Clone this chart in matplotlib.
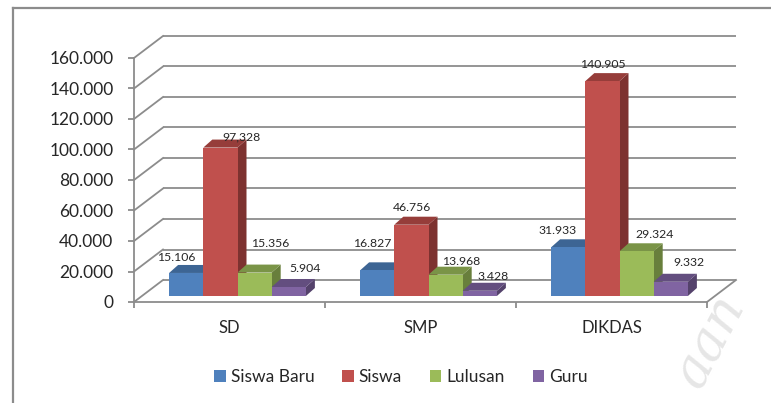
import matplotlib
matplotlib.use("Agg")
import matplotlib.pyplot as plt
from matplotlib.patches import Polygon, Patch
from matplotlib.ticker import FuncFormatter, FixedLocator

plt.rcParams['font.family'] = ['Lato', 'DejaVu Sans']

categories = ['SD', 'SMP', 'DIKDAS']
series = ['Siswa Baru', 'Siswa', 'Lulusan', 'Guru']
siswa_baru = [15106, 16827, 31933]
siswa = [97328, 46756, 140905]
lulusan = [15356, 13968, 29324]
guru = [5904, 3428, 9332]
labels = [
    ['15.106', '16.827', '31.933'],
    ['97,328', '46.756', '140.905'],
    ['15.356', '13.968', '29.324'],
    ['5.904', '3.428', '9.332'],
]
values = [siswa_baru, siswa, lulusan, guru]

# colours: front, top, side
front = ['#4F81BD', '#C0504D', '#9BBB59', '#8064A2']
top = ['#3D6594', '#963D3A', '#7A9447', '#634E7F']
side = ['#34577F', '#7D3230', '#687F3C', '#54426B']

# label offsets in pixels from the top-centre of each bar front
lbl_off = [
    [(-10, 15), (-5, 27), (-11, 17)],
    [(21, 11), (1, 17), (0, 17)],
    [(16, 29), (16, 13), (18, 17)],
    [(16, 18), (13, 14), (18, 19)],
]

grid_col = '#8C8C8C'

fig = plt.figure(figsize=(7.71, 4.03), dpi=100)
ax = fig.add_axes([134 / 771, 1 - 302 / 403, 573 / 771, 244 / 403])
ax.set_xlim(-0.5, 2.5)
ax.set_ylim(0, 160000)
ax.patch.set_visible(False)


def off(px, py):
    inv = ax.transData.inverted()
    x0, y0 = inv.transform((0, 0))
    x1, y1 = inv.transform((px, py))
    return x1 - x0, y1 - y0


# back wall / floor
wdx, wdy = off(29, 22)
yticks = list(range(0, 160001, 20000))
for v in yticks:
    ax.plot([-0.5 + wdx, 2.5 + wdx], [v + wdy, v + wdy], color=grid_col, lw=1.3,
            clip_on=False, zorder=1, solid_capstyle='butt')
    ax.plot([-0.5, -0.5 + wdx], [v, v + wdy], color=grid_col, lw=1.3,
            clip_on=False, zorder=1)
ax.plot([2.5, 2.5 + wdx], [0, wdy], color=grid_col, lw=1.3, clip_on=False, zorder=1)

# bars
fdx, fdy = off(8, 6)
ddx, ddy = off(9, 8)
bw = 0.179
for i, vals in enumerate(values):
    xs = [c - 1.5 * bw + i * bw + fdx for c in range(len(categories))]
    for j, (x, h) in enumerate(zip(xs, vals)):
        x0, x1 = x - bw / 2, x + bw / 2
        y0, y1 = fdy, fdy + h
        zz = 3 + i * 3
        ax.add_patch(Polygon([(x1, y0), (x1, y1), (x1 + ddx, y1 + ddy), (x1 + ddx, y0 + ddy)],
                             closed=True, facecolor=side[i], edgecolor='none',
                             clip_on=False, zorder=zz))
        ax.add_patch(Polygon([(x0, y1), (x1, y1), (x1 + ddx, y1 + ddy), (x0 + ddx, y1 + ddy)],
                             closed=True, facecolor=top[i], edgecolor='none',
                             clip_on=False, zorder=zz + 1))
        ax.bar(x, h, width=bw, bottom=fdy, color=front[i], zorder=zz + 2, clip_on=False)
        ox, oy = lbl_off[i][j]
        ax.annotate(labels[i][j], xy=(x, y1), xytext=(ox, oy), textcoords='offset pixels',
                    ha='center', va='center', fontsize=8.8, color='#262626', zorder=20,
                    annotation_clip=False)

# axes
for s in ['top', 'right']:
    ax.spines[s].set_visible(False)
for s in ['left', 'bottom']:
    ax.spines[s].set_color(grid_col)
    ax.spines[s].set_linewidth(1.3)
ax.spines['left'].set_zorder(2)
ax.set_yticks(yticks)
ax.yaxis.set_major_formatter(FuncFormatter(lambda v, p: f"{int(v):,}".replace(',', '.')))
ax.tick_params(axis='y', direction='out', length=4.3, width=1.3, color=grid_col,
               labelsize=12.5, pad=10.5, labelcolor='#262626')
ax.xaxis.set_major_locator(FixedLocator([-0.5, 0.5, 1.5, 2.5]))
ax.xaxis.set_minor_locator(FixedLocator([0, 1, 2]))
ax.set_xticklabels([], minor=False)
ax.set_xticklabels(categories, minor=True)
ax.tick_params(axis='x', which='major', direction='out', length=4.3, width=1.3, color=grid_col)
ax.tick_params(axis='x', which='minor', length=0, pad=13, labelsize=12, labelcolor='#262626')

# legend
handles = [Patch(facecolor=c, edgecolor='none') for c in front]
fig.legend(handles, series, loc='center', bbox_to_anchor=(401 / 771, 1 - 377 / 403), ncol=4,
           frameon=False, fontsize=12.5, handlelength=0.65, handleheight=0.65,
           handletextpad=0.3, columnspacing=1.6, labelcolor='#262626')

# outer border (top and left visible)
fig.add_artist(plt.Line2D([13 / 771, 13 / 771], [0, 1 - 8 / 403], color='#8C8C8C', lw=1.6))
fig.add_artist(plt.Line2D([13 / 771, 1], [1 - 8 / 403, 1 - 8 / 403], color='#8C8C8C', lw=1.6))

# faint watermark
fig.text(0.92, 0.155, 'aan', rotation=62, color='#E6E6E6', fontsize=38, style='italic',
         family='DejaVu Serif', ha='center', va='center', zorder=0)

fig.savefig('out.png', dpi=100)
